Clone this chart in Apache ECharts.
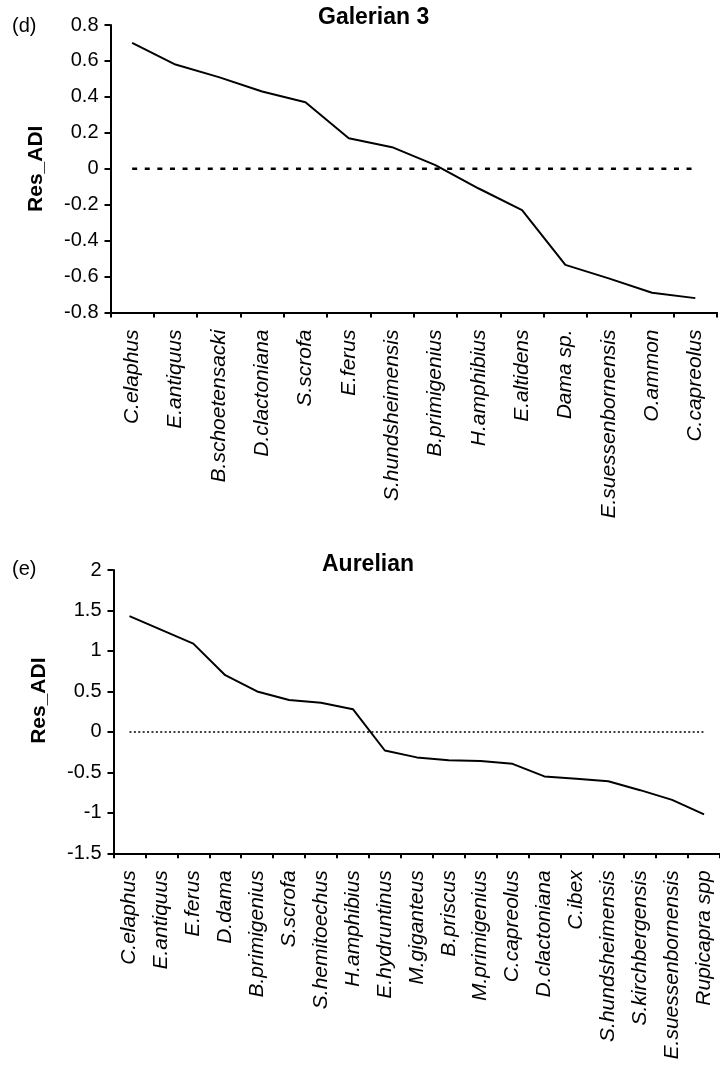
<!DOCTYPE html>
<html>
<head>
<meta charset="utf-8">
<title>Res_ADI</title>
<script src="https://cdn.jsdelivr.net/npm/echarts@6/dist/echarts.min.js"></script>
<style>
body { margin: 0; background: #fff; }
#chart { width: 720px; height: 1066px; }
</style>
</head>
<body>
<div id="chart"></div>
<script>
// panel (d) Galerian 3
const galerianSpecies = ['C.elaphus', 'E.antiquus', 'B.schoetensacki', 'D.clactoniana', 'S.scrofa', 'E.ferus',
  'S.hundsheimensis', 'B.primigenius', 'H.amphibius', 'E.altidens', 'Dama sp.', 'E.suessenbornensis', 'O.ammon', 'C.capreolus']
const galerianRes = [0.70, 0.58, 0.51, 0.43, 0.37, 0.17, 0.12, 0.02, -0.11, -0.23, -0.535, -0.61, -0.69, -0.72]

// panel (e) Aurelian
const aurelianSpecies = ['C.elaphus', 'E.antiquus', 'E.ferus', 'D.dama', 'B.primigenius', 'S.scrofa', 'S.hemitoechus',
  'H.amphibius', 'E.hydruntinus', 'M.giganteus', 'B.priscus', 'M.primigenius', 'C.capreolus', 'D.clactoniana', 'C.ibex',
  'S.hundsheimensis', 'S.kirchbergensis', 'E.suessenbornensis', 'Rupicapra spp']
const aurelianRes = [1.43, 1.26, 1.09, 0.70, 0.50, 0.395, 0.36, 0.28, -0.23, -0.315, -0.35, -0.36, -0.395, -0.55, -0.58,
  -0.61, -0.72, -0.84, -1.02]

const zeroLevel = 0
const font = 'Liberation Sans, Arial, Helvetica, sans-serif'

let chart = echarts.init(document.getElementById('chart'))

function yAxisFor(gridIndex, min, max, interval, namePad) {
  return {
    type: 'value',
    gridIndex,
    min,
    max,
    interval,
    name: 'Res_ADI',
    nameLocation: 'middle',
    nameGap: 64,
    nameTextStyle: { color: '#000', fontFamily: font, fontWeight: 'bold', fontSize: 21, padding: namePad },
    axisLine: { show: true, lineStyle: { color: '#000', width: 2 } },
    axisTick: { show: true, length: 6, lineStyle: { color: '#000', width: 2 } },
    axisLabel: { color: '#000', fontFamily: font, fontSize: 20, margin: 12 },
    splitLine: { show: false }
  }
}

function xAxisFor(gridIndex, data) {
  return {
    type: 'category',
    gridIndex,
    data,
    axisLine: { onZero: false, lineStyle: { color: '#000', width: 2 } },
    axisTick: { show: true, length: 5, interval: 0, lineStyle: { color: '#000', width: 2 } },
    axisLabel: {
      interval: 0,
      rotate: 90,
      margin: 17,
      color: '#000',
      fontFamily: font,
      fontStyle: 'italic',
      fontSize: 21
    }
  }
}

let option = {
  animation: false,
  backgroundColor: '#fff',
  title: [
    { text: 'Galerian 3', left: 318, top: 6, padding: 0,
      textStyle: { fontFamily: font, fontWeight: 'bold', fontSize: 23, color: '#000' } },
    { text: '(d)', left: 12, top: 16, padding: 0,
      textStyle: { fontFamily: font, fontWeight: 'normal', fontSize: 20, color: '#000' } },
    { text: 'Aurelian', left: 322, top: 553, padding: 0,
      textStyle: { fontFamily: font, fontWeight: 'bold', fontSize: 23, color: '#000' } },
    { text: '(e)', left: 12, top: 559, padding: 0,
      textStyle: { fontFamily: font, fontWeight: 'normal', fontSize: 20, color: '#000' } }
  ],
  grid: [
    { left: 110.5, top: 25, width: 606.5, height: 287.5 },
    { left: 113.5, top: 570, width: 615.6, height: 283.3 }
  ],
  xAxis: [xAxisFor(0, galerianSpecies), xAxisFor(1, aurelianSpecies)],
  yAxis: [yAxisFor(0, -0.8, 0.8, 0.2, 0), yAxisFor(1, -1.5, 2, 0.5, [0, 0, 0, 22])],
  series: [
    {
      type: 'line', xAxisIndex: 0, yAxisIndex: 0, silent: true, symbol: 'none',
      data: galerianSpecies.map(() => zeroLevel),
      lineStyle: { color: '#000', width: 2.6, type: [5, 7.6] }
    },
    {
      type: 'line', xAxisIndex: 0, yAxisIndex: 0, symbol: 'none',
      data: galerianRes,
      lineStyle: { color: '#000', width: 2 }
    },
    {
      type: 'line', xAxisIndex: 1, yAxisIndex: 1, silent: true, symbol: 'none',
      data: aurelianSpecies.map(() => zeroLevel),
      lineStyle: { color: '#000', width: 1.5, type: [2, 2.4] }
    },
    {
      type: 'line', xAxisIndex: 1, yAxisIndex: 1, symbol: 'none',
      data: aurelianRes,
      lineStyle: { color: '#000', width: 2 }
    }
  ]
}
chart.setOption(option)
</script>
</body>
</html>
